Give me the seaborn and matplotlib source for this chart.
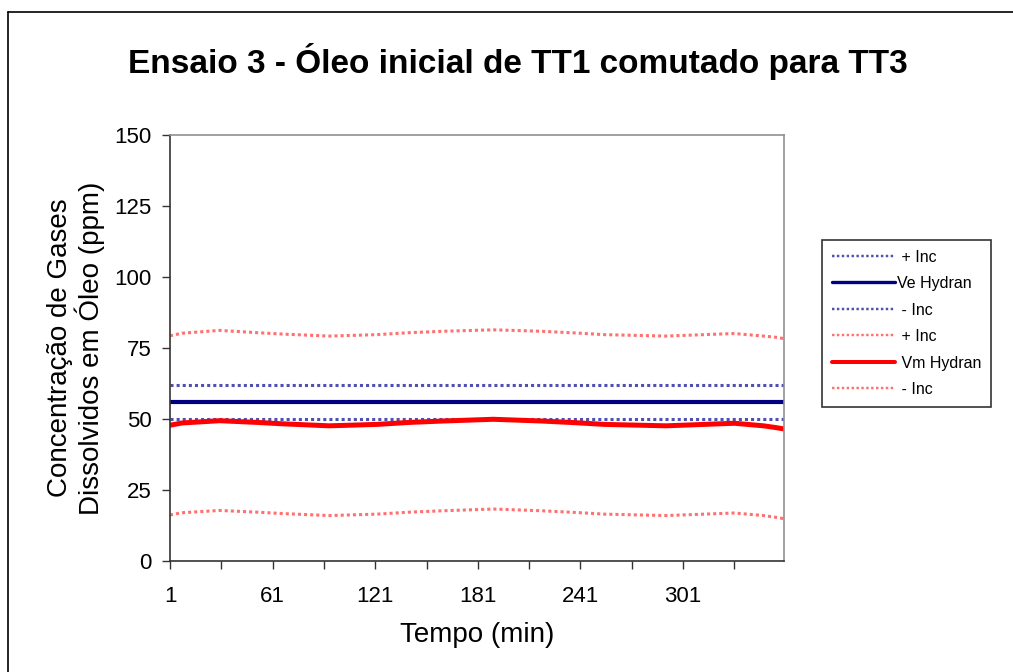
import matplotlib
matplotlib.use("Agg")
import matplotlib.pyplot as plt
import matplotlib.lines as mlines
import pandas as pd
import seaborn as sns

minutes = [1, 8, 30, 52, 67, 94, 122, 141, 161, 190, 218, 238, 255, 291, 331, 348, 355, 360]

# reference instrument (constant) and its uncertainty band
ve_plus = [62.0] * len(minutes)
ve_hydran = [56.0] * len(minutes)
ve_minus = [50.0] * len(minutes)

# measured values and uncertainty band
vm_plus = [79.3, 80.2, 81.2, 80.4, 79.9, 79.2, 79.7, 80.4, 80.9, 81.4, 80.9, 80.3, 79.7, 79.2, 80.1, 79.2, 78.8, 78.3]
vm_hydran = [47.8, 48.6, 49.4, 48.8, 48.3, 47.6, 48.1, 48.8, 49.3, 49.9, 49.3, 48.7, 48.1, 47.6, 48.5, 47.6, 47.0, 46.5]
vm_minus = [16.2, 17.0, 17.8, 17.2, 16.7, 16.0, 16.5, 17.2, 17.7, 18.3, 17.7, 17.1, 16.5, 16.0, 16.9, 16.0, 15.4, 14.9]

series_labels = [" + Inc", "Ve Hydran", " - Inc", " + Inc", " Vm Hydran", " - Inc"]
x_ticklabels = ["1", "61", "121", "181", "241", "301"]

sns.set_theme(style="white")
plt.rcParams["font.family"] = ["Liberation Sans", "DejaVu Sans"]
plt.rcParams["text.color"] = "black"
plt.rcParams["axes.labelcolor"] = "black"

fig = plt.figure(figsize=(10.13, 6.72), dpi=100)
ax = fig.add_axes([170 / 1013, 1 - 561 / 672, (784 - 170) / 1013, (561 - 135) / 672])

dot = (0, (1, 1))
styles = [
    ("#5050b0", dot, 2.2),
    ("#000080", "-", 3.0),
    ("#5050b0", dot, 2.2),
    ("#ff7070", dot, 2.2),
    ("#ff0000", "-", 3.6),
    ("#ff7070", dot, 2.2),
]
data = [ve_plus, ve_hydran, ve_minus, vm_plus, vm_hydran, vm_minus]

df = pd.DataFrame({"Tempo": minutes})
handles = []
for vals, lab, (col, ls, lw) in zip(data, series_labels, styles):
    df["v"] = vals
    sns.lineplot(data=df, x="Tempo", y="v", ax=ax, color=col, linestyle=ls, linewidth=lw)
    handles.append(mlines.Line2D([], [], color=col, linestyle=ls, linewidth=lw * 0.8))

ax.set_xlim(1, 360)
ax.set_ylim(0, 150)
ax.set_yticks(range(0, 151, 25))
ax.set_xticks(range(1, 361, 60))
ax.set_xticklabels(x_ticklabels)
ax.set_xticks(range(31, 361, 60), minor=True)

ax.tick_params(axis="both", which="both", direction="out", length=6, width=1, color="#333333",
               labelsize=16, labelcolor="black")
ax.tick_params(axis="x", which="major", pad=12, bottom=True)
ax.tick_params(axis="x", which="minor", bottom=True)
ax.tick_params(axis="y", left=True, pad=7)

for side in ["left", "bottom"]:
    ax.spines[side].set_color("#333333")
    ax.spines[side].set_linewidth(1.2)
for side in ["top", "right"]:
    ax.spines[side].set_color("#909090")
    ax.spines[side].set_linewidth(1.2)

ax.set_xlabel("Tempo (min)", fontsize=20, labelpad=11)
ax.set_ylabel("Concentração de Gases\nDissolvidos em Óleo (ppm)", fontsize=20, labelpad=7,
              linespacing=1.05)

fig.text(518 / 1013, 1 - 62 / 672, "Ensaio 3 - Óleo inicial de TT1 comutado para TT3",
         fontsize=24, fontweight="bold", ha="center", va="center", color="black")

leg = fig.legend(handles, series_labels, loc="upper left",
                 bbox_to_anchor=(822 / 1013, 1 - 240 / 672),
                 fontsize=11.5, handlelength=4.0, handletextpad=0.1, labelspacing=0.72,
                 frameon=True, fancybox=False, borderpad=0.6, borderaxespad=0)
leg.get_frame().set_edgecolor("black")
leg.get_frame().set_linewidth(1.2)

# chart area border (left and top visible)
fig.add_artist(mlines.Line2D([8 / 1013, 8 / 1013], [0, 1 - 12 / 672], transform=fig.transFigure,
                             color="black", linewidth=1.2))
fig.add_artist(mlines.Line2D([8 / 1013, 1], [1 - 12 / 672, 1 - 12 / 672], transform=fig.transFigure,
                             color="black", linewidth=1.2))

fig.savefig("out.png", dpi=100)
